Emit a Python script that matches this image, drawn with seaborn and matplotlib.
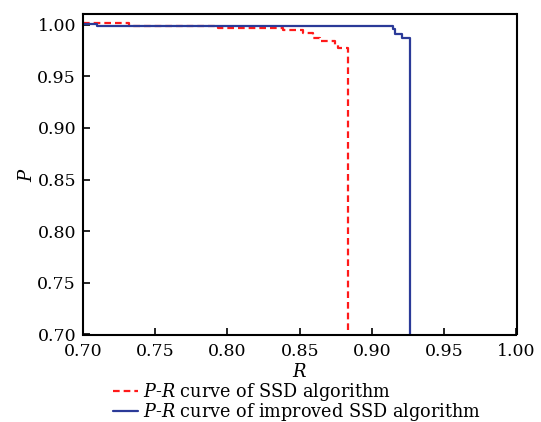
import matplotlib
matplotlib.use("Agg")
import matplotlib.pyplot as plt
import seaborn as sns
import pandas as pd

# Data
ssd_R = [0.700, 0.732, 0.7935, 0.8386, 0.8525, 0.8594, 0.8643, 0.8747, 0.8764, 0.8835]
ssd_P = [1.002, 0.9988, 0.9963, 0.9947, 0.992, 0.987, 0.984, 0.980, 0.977, 0.60]
imp_R = [0.700, 0.710, 0.9146, 0.916, 0.9208, 0.926]
imp_P = [1.001, 0.9988, 0.9953, 0.9908, 0.9866, 0.60]
x_ticks = [0.70, 0.75, 0.80, 0.85, 0.90, 0.95, 1.00]
y_ticks = [0.70, 0.75, 0.80, 0.85, 0.90, 0.95, 1.00]
label_ssd = r"$P$-$R$ curve of SSD algorithm"
label_imp = r"$P$-$R$ curve of improved SSD algorithm"

sns.set_style("white")
plt.rcParams["font.family"] = ["DejaVu Serif"]
plt.rcParams["mathtext.fontset"] = "custom"
plt.rcParams["mathtext.rm"] = "DejaVu Serif"
plt.rcParams["mathtext.it"] = "DejaVu Serif:italic"
plt.rcParams["text.color"] = "black"
plt.rcParams["axes.labelcolor"] = "black"

fig = plt.figure(figsize=(5.41, 4.22), dpi=100)
ax = fig.add_axes([83 / 541, 1 - 334.5 / 422, (516.5 - 83) / 541, (334.5 - 14.3) / 422])

df1 = pd.DataFrame({"R": ssd_R, "P": ssd_P})
df2 = pd.DataFrame({"R": imp_R, "P": imp_P})

sns.lineplot(data=df1, x="R", y="P", ax=ax, estimator=None, sort=False,
             drawstyle="steps-post", color="#ff1a1a", lw=1.6,
             linestyle=(0, (3.0, 1.8)), label=label_ssd)
sns.lineplot(data=df2, x="R", y="P", ax=ax, estimator=None, sort=False,
             drawstyle="steps-post", color="#2b3a98", lw=1.6,
             label=label_imp)

ax.set_xlim(0.70, 1.00)
ax.set_ylim(0.70, 1.01)
ax.set_xticks(x_ticks)
ax.set_yticks(y_ticks)
ax.set_xticklabels([f"{v:.2f}" for v in x_ticks])
ax.set_yticklabels([f"{v:.2f}" for v in y_ticks])
ax.tick_params(axis="both", direction="in", length=5, width=1.2,
               labelsize=12.5, colors="black")
ax.tick_params(axis="x", top=False, bottom=True, pad=6)
ax.tick_params(axis="y", left=True, right=False, pad=5)
for s in ax.spines.values():
    s.set_color("black")
    s.set_linewidth(1.5)

ax.set_xlabel("$R$", fontsize=13, labelpad=2)
ax.set_ylabel("$P$", fontsize=13, labelpad=1)

ax.legend(loc="upper left", bbox_to_anchor=(113 / 541, 1 - 381 / 422),
          bbox_transform=fig.transFigure, frameon=False, fontsize=12.7,
          handlelength=1.42, handletextpad=0.28, labelspacing=-0.12,
          borderpad=0, borderaxespad=0)

fig.savefig("out.png", dpi=100)
